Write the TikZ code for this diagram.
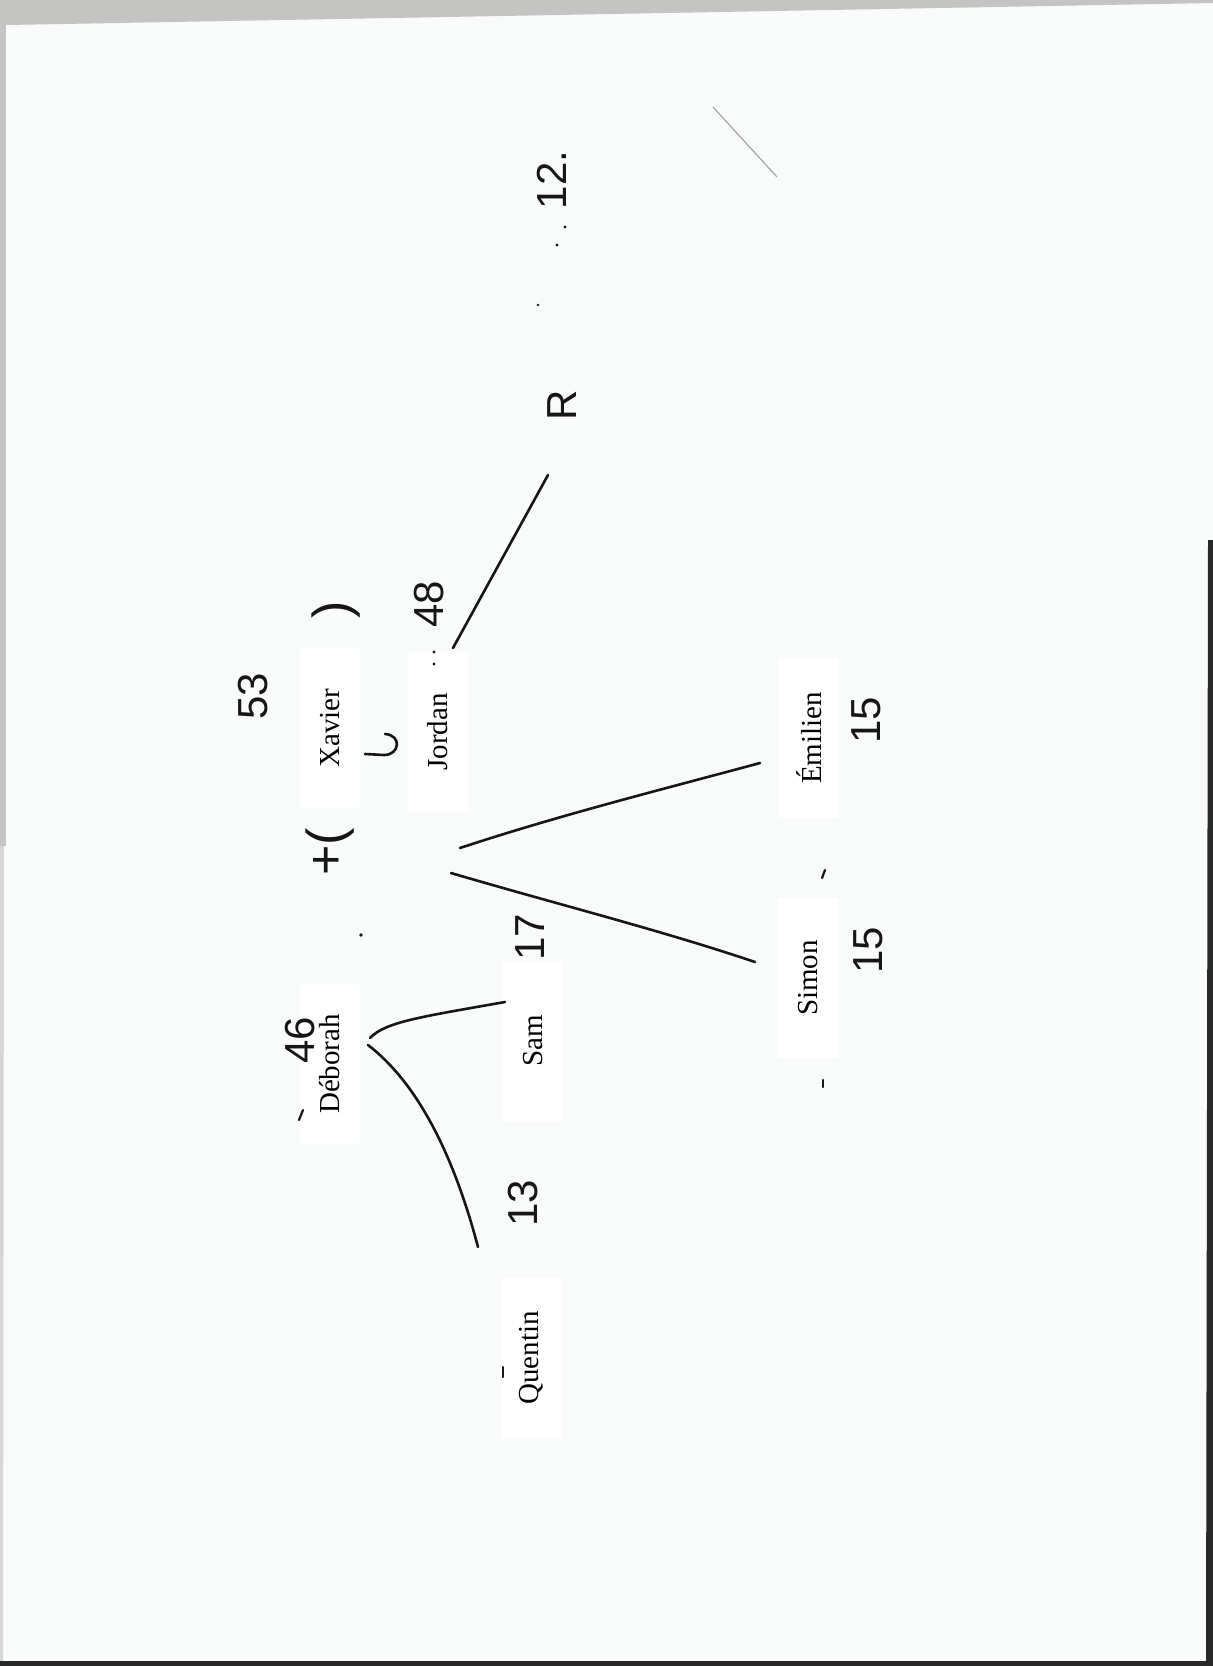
\documentclass[tikz,border=0pt]{standalone}
\usepackage{fontspec}
\setmainfont{Liberation Serif}
\newfontfamily\handfont{Liberation Sans}
\definecolor{paper}{RGB}{249,250,250}
\definecolor{cloth}{RGB}{196,196,194}
\definecolor{dark}{RGB}{40,40,40}
\definecolor{ink}{RGB}{22,22,22}
\begin{document}
\begin{tikzpicture}[x=0.5pt,y=-0.5pt,
  person/.style={font=\fontsize{14.5}{17}\selectfont, rotate=90, fill=white, inner sep=0pt,
                 minimum width=80pt, minimum height=30pt, text=black},
  hand/.style={font=\handfont\fontsize{21}{24}\selectfont, rotate=90, text=ink, inner sep=0pt},
  stroke/.style={draw=ink, line width=1.3pt, line cap=round},
  tick/.style={draw=ink, line width=1.1pt, line cap=round}]
\useasboundingbox (0,0) rectangle (1213,1666);
% paper and surroundings
\fill[paper] (0,0) rectangle (1213,1666);
\fill[cloth] (0,0) -- (1213,0) -- (1213,3) -- (8,25) -- (0,26) -- cycle;
\fill[cloth] (0,0) rectangle (6,846);
\fill[cloth!70] (0,846) -- (4,846) -- (3,1666) -- (0,1666) -- cycle;
\fill[dark] (1208,540) -- (1213,540) -- (1213,1666) -- (1206,1666) -- cycle;
\fill[dark] (0,1661) rectangle (1213,1666);

% printed names
\node[person] (xavier)  at (330,728)  {Xavier};
\node[person] (jordan)  at (438,732)  {Jordan};
\node[person] (deborah) at (330,1064) {Déborah};
\node[person] (sam)     at (533,1041) {Sam};
\node[person] (quentin) at (531,1358) {Quentin};
\node[person] (simon)   at (808,978)  {Simon};
\node[person] (emilien) at (809,738)  {Émilien};

% handwritten numbers
\node[hand] (n46) at (300,1040) {46};
\node[hand] (n53) at (253,696)  {53};
\node[hand] (n48) at (429,604)  {48};
\node[hand] (n12) at (552,180)  {12.};
\node[hand] (nR)  at (562,405)  {R};
\node[hand] (n17) at (530,937)  {17};
\node[hand] (n13) at (523,1203) {13};
\node[hand] (n15a) at (868,950) {15};
\node[hand] (n15b) at (866,720) {15};
\node[hand, font=\handfont\fontsize{26}{28}\selectfont] (pr) at (336,610) {)};
\node[hand, font=\handfont\fontsize{26}{28}\selectfont] (pl) at (330,852) {+(};

% connector end points
\coordinate (j-a) at (453,648);
\coordinate (r-a) at (548,475);
\coordinate (j-b) at (460,848);
\coordinate (e-b) at (760,763);
\coordinate (j-c) at (451,873);
\coordinate (s-c) at (755,962);
\coordinate (d-a) at (370,1038);
\coordinate (sa-a) at (505,1002);
\coordinate (d-b) at (368,1045);
\coordinate (q-b) at (478,1247);

% connectors
\draw[stroke] (j-a) -- (r-a);
\draw[stroke] (j-b) .. controls (560,815) and (660,790) .. (e-b);
\draw[stroke] (j-c) .. controls (560,905) and (660,930) .. (s-c);
\draw[stroke] (d-a) .. controls (385,1022) and (420,1017) .. (sa-a);
\draw[stroke] (d-b) .. controls (420,1085) and (455,1160) .. (q-b);

% small pen marks
\draw[stroke] (365,754) -- (384,755) .. controls (400,755) and (402,735) .. (385,734);
\draw[tick] (303,1110) -- (299,1120);
\draw[tick] (503,1367) -- (503,1377);
\draw[tick] (825,870) -- (822,878);
\draw[tick] (823,1080) -- (823,1087);
\draw[draw=black!35, line width=0.6pt] (713,107) -- (777,177);
\fill[ink] (361,935) circle (1.8);
\fill[ink] (434,652) circle (1.6);
\fill[ink] (434,664) circle (1.6);
\fill[ink] (565,227) circle (1.6);
\fill[ink] (557,245) circle (1.6);
\fill[ink] (538,305) circle (1.4);
\end{tikzpicture}
\end{document}
